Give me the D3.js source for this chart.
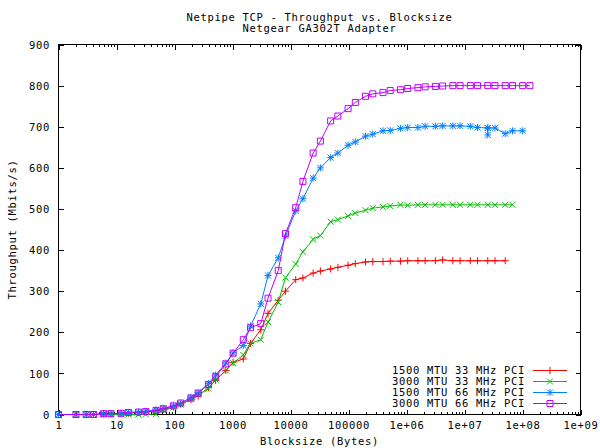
<!DOCTYPE html>
<html><head><meta charset="utf-8">
<script src="https://cdn.jsdelivr.net/npm/d3@7"></script>
<style>
body{margin:0;background:#fff}
text{font-family:"DejaVu Sans Mono",monospace;font-size:10.5px;letter-spacing:0.68px;fill:#000}
</style>
</head><body><svg id="c" width="600" height="448"></svg>
<script>
const titleLines = ["Netpipe TCP - Throughput vs. Blocksize", "Netgear GA302T Adapter"];
const xLabel = "Blocksize (Bytes)";
const yLabel = "Throughput (Mbits/s)";
const xTickValues = [1,10,100,1000,10000,100000,1e6,1e7,1e8,1e9];
const xTickLabels = ["1","10","100","1000","10000","100000","1e+06","1e+07","1e+08","1e+09"];
const yTickValues = [0,100,200,300,400,500,600,700,800,900];

const blocksizes = [1,2,3,4,6,8,12,16,24,32,48,64,96,128,192,256,384,512,768,1024,
  1536,2048,3072,4096,6144,8192,12288,16384,24576,32768,
  49152,65536,98304,131072,196608,262144,393216,524288,786432,1048576,
  1572864,2097152,3145728,4194304,6291456,8388608,12582912,16777216,25165824,33554432,
  50331648,67108864,100663296,134217728];

const seriesNames = ["1500 MTU 33 MHz PCI","3000 MTU 33 MHz PCI","1500 MTU 66 MHz PCI","3000 MTU 66 MHz PCI"];
const seriesColors = ["#ff0000","#00c000","#0080ff","#c000ff"];
const seriesMarkers = ["plus","cross","star","square"];

const red = [0,0,0,0,1,1,2,3,5,6,9,12,18,25,36,45,65,83,107,127,
  135,173,206,246,278,300,328,332,344,349,
  354,358,363,367,371,372,372,373,373,374,
  374,374,374,376,374,374,374,374,374,374,374];
const green = [0,0,0,0,0,0,0,0,0,0,1,10,17,24,37,48,63,85,107,125,
  145,173,182,225,273,333,366,396,426,435,
  469,474,483,490,497,502,505,507,510,509,
  510,510,510,510,510,510,510,510,510,510,510,510];
const blue = [0,0,0,0,2,2,3,5,6,8,11,15,21,27,42,53,75,96,125,150,
  168,215,269,338,381,434,495,525,575,600,
  625,636,655,663,677,682,690,691,696,698,
  698,701,701,702,702,702,701,698,697,697,683,690,690];
const purple = [0,0,0,0,2,2,3,5,6,7,10,14,21,28,40,52,73,92,123,149,
  182,211,221,283,350,440,503,567,636,665,
  714,726,744,759,774,780,783,788,790,793,
  795,797,798,799,800,800,800,800,800,800,800,800,800,800];
// perturbed blocksize measurement in the 1500/66 series
const blueDipSize = 25165824;
const blueDipValue = 680;

const svg = d3.select("#c");
const L = 58.5, R = 580.5, T = 44.5, B = 414.5;
const x = d3.scaleLog().domain([1,1e9]).range([L,R]);
const y = d3.scaleLinear().domain([0,900]).range([B,T]);

// minor tick values
const minor = [];
for (let e=0;e<9;e++) for (let m=2;m<=9;m++) minor.push(m*Math.pow(10,e));

function ax(gen, tx, ty, vals, size, fmt) {
  const g = svg.append("g").attr("transform",`translate(${tx},${ty})`)
    .call(gen.tickValues(vals).tickSizeInner(size).tickSizeOuter(0).tickFormat(fmt));
  g.select(".domain").remove();
  g.selectAll("line").attr("stroke","#000").attr("shape-rendering","crispEdges");
  g.attr("font-family",null).attr("font-size",null);
  return g;
}
const noLabel = () => "";
// bottom
const gb = ax(d3.axisBottom(x), 0, B, xTickValues, -5, (d,i)=>xTickLabels[i]);
gb.call(g=>g.selectAll("text").attr("y",7.5));
ax(d3.axisBottom(x), 0, B, minor, -2.5, noLabel);
// top
ax(d3.axisTop(x), 0, T, xTickValues, -5, noLabel);
ax(d3.axisTop(x), 0, T, minor, -2.5, noLabel);
// left
const gl = ax(d3.axisLeft(y), L, 0, yTickValues, -5, d3.format("d"));
gl.selectAll("text").attr("x",-8.5).attr("dy","0.35em");
// right
ax(d3.axisRight(y), R, 0, yTickValues, -5, noLabel);

// border
svg.append("rect").attr("x",L).attr("y",T).attr("width",R-L).attr("height",B-T)
  .attr("fill","none").attr("stroke","#000").attr("shape-rendering","crispEdges");

// titles
svg.append("text").attr("x",(L+R)/2).attr("y",20.5).attr("text-anchor","middle").text(titleLines[0]);
svg.append("text").attr("x",(L+R)/2).attr("y",31.5).attr("text-anchor","middle").text(titleLines[1]);
svg.append("text").attr("x",(L+R)/2).attr("y",445).attr("text-anchor","middle").text(xLabel);
svg.append("text").attr("transform",`translate(16,${(T+B)/2}) rotate(-90)`).attr("text-anchor","middle").text(yLabel);

function marker(g, type, cx, cy, color) {
  const s = 3.5;
  const p = d3.path();
  if (type==="plus"||type==="star") { p.moveTo(cx-s,cy); p.lineTo(cx+s,cy); p.moveTo(cx,cy-s); p.lineTo(cx,cy+s); }
  if (type==="cross"||type==="star") { const t=3; p.moveTo(cx-t,cy-t); p.lineTo(cx+t,cy+t); p.moveTo(cx-t,cy+t); p.lineTo(cx+t,cy-t); }
  if (type==="square") { p.rect(cx-3,cy-3,6,6); }
  g.append("path").attr("d",p.toString()).attr("fill","none").attr("stroke",color).attr("stroke-width",1);
}

const seriesValues = [red, green, blue, purple];
const line = d3.line().x(d=>x(d[0])).y(d=>y(d[1]));
seriesValues.forEach((vals,si)=>{
  let pts = vals.map((v,i)=>[blocksizes[i], v]);
  if (si===2) {
    const k = pts.findIndex(p=>p[0]===blueDipSize);
    pts.splice(k+1,0,[blueDipSize,blueDipValue],[blueDipSize,pts[k][1]]);
  }
  const g = svg.append("g");
  g.append("path").datum(pts).attr("d",line).attr("fill","none").attr("stroke",seriesColors[si]).attr("stroke-width",1);
  pts.forEach(p=>marker(g, seriesMarkers[si], x(p[0]), y(p[1]), seriesColors[si]));
});

// legend
seriesNames.forEach((name,i)=>{
  const yy = 370.5 + i*11;
  svg.append("text").attr("x",525).attr("y",yy).attr("dy","0.35em").attr("text-anchor","end").text(name);
  svg.append("line").attr("x1",533).attr("x2",567).attr("y1",yy).attr("y2",yy)
    .attr("stroke",seriesColors[i]).attr("stroke-width",1).attr("shape-rendering","crispEdges");
  marker(svg, seriesMarkers[i], 550, yy, seriesColors[i]);
});
</script>
</body></html>
